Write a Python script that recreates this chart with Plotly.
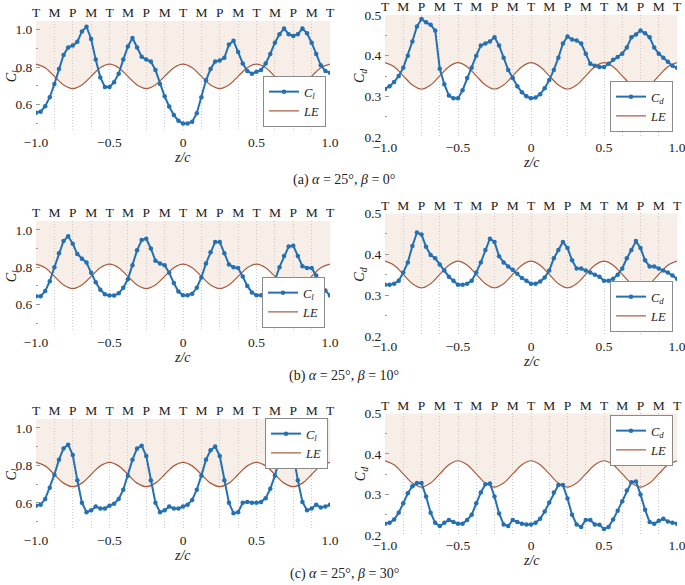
import numpy as np
import plotly.graph_objects as go

# ---------------- data ----------------
z = np.linspace(-1, 1, 65)          # measurement stations z/c
z_le = np.linspace(-1, 1, 33)       # leading-edge profile stations

cl_a = [0.558, 0.563, 0.592, 0.64, 0.71, 0.79, 0.865, 0.905, 0.915, 0.935, 0.99, 1.015, 0.95, 0.84, 0.745, 0.695, 0.695,
        0.72, 0.765, 0.84, 0.91, 0.955, 0.905, 0.855, 0.84, 0.83, 0.785, 0.71, 0.645, 0.59, 0.545, 0.515, 0.50,
        0.50, 0.51, 0.555, 0.64, 0.73, 0.79, 0.83, 0.835, 0.85, 0.92, 0.94, 0.88, 0.82, 0.78, 0.765, 0.775,
        0.785, 0.82, 0.87, 0.93, 0.975, 1.005, 0.975, 0.965, 0.975, 1.005, 0.98, 0.93, 0.87, 0.81, 0.78, 0.77]
cd_a = [0.318, 0.325, 0.335, 0.35, 0.37, 0.40, 0.435, 0.472, 0.49, 0.482, 0.476, 0.462, 0.368, 0.33, 0.302, 0.295, 0.295,
        0.315, 0.345, 0.37, 0.40, 0.425, 0.43, 0.435, 0.445, 0.425, 0.395, 0.365, 0.345, 0.325, 0.31, 0.30, 0.295,
        0.297, 0.305, 0.32, 0.34, 0.365, 0.395, 0.43, 0.447, 0.44, 0.437, 0.43, 0.405, 0.38, 0.375, 0.372, 0.372,
        0.38, 0.39, 0.397, 0.405, 0.42, 0.445, 0.452, 0.462, 0.455, 0.445, 0.42, 0.405, 0.395, 0.385, 0.375, 0.37]
cl_b = [0.645, 0.645, 0.672, 0.725, 0.80, 0.875, 0.94, 0.965, 0.925, 0.87, 0.845, 0.825, 0.77, 0.72, 0.68, 0.655, 0.648,
        0.648, 0.66, 0.69, 0.735, 0.81, 0.89, 0.945, 0.952, 0.90, 0.835, 0.82, 0.81, 0.77, 0.715, 0.67, 0.65,
        0.65, 0.658, 0.69, 0.745, 0.82, 0.88, 0.935, 0.935, 0.875, 0.815, 0.80, 0.795, 0.75, 0.70, 0.665, 0.65,
        0.65, 0.655, 0.68, 0.73, 0.80, 0.86, 0.91, 0.915, 0.86, 0.805, 0.795, 0.795, 0.755, 0.71, 0.675, 0.648]
cd_b = [0.325, 0.325, 0.328, 0.335, 0.355, 0.38, 0.42, 0.453, 0.448, 0.418, 0.398, 0.39, 0.375, 0.36, 0.345, 0.335, 0.325,
        0.325, 0.328, 0.335, 0.355, 0.38, 0.41, 0.438, 0.43, 0.395, 0.38, 0.37, 0.362, 0.352, 0.342, 0.335, 0.328,
        0.328, 0.333, 0.343, 0.36, 0.39, 0.41, 0.43, 0.415, 0.385, 0.365, 0.365, 0.36, 0.355, 0.35, 0.345, 0.335,
        0.335, 0.34, 0.35, 0.365, 0.39, 0.41, 0.432, 0.415, 0.385, 0.37, 0.37, 0.365, 0.36, 0.355, 0.348, 0.34]
cl_c = [0.585, 0.59, 0.62, 0.68, 0.75, 0.83, 0.89, 0.91, 0.855, 0.72, 0.60, 0.55, 0.56, 0.58, 0.57, 0.57, 0.585,
        0.595, 0.62, 0.67, 0.745, 0.83, 0.89, 0.905, 0.85, 0.72, 0.60, 0.55, 0.56, 0.58, 0.57, 0.57, 0.58,
        0.59, 0.615, 0.67, 0.745, 0.83, 0.88, 0.90, 0.85, 0.72, 0.60, 0.545, 0.55, 0.60, 0.605, 0.60, 0.60,
        0.605, 0.625, 0.675, 0.745, 0.83, 0.89, 0.91, 0.86, 0.72, 0.605, 0.56, 0.57, 0.59, 0.575, 0.58, 0.59]
cd_c = [0.228, 0.23, 0.238, 0.255, 0.278, 0.303, 0.32, 0.328, 0.328, 0.295, 0.255, 0.23, 0.222, 0.23, 0.237, 0.232, 0.228,
        0.228, 0.237, 0.25, 0.278, 0.305, 0.325, 0.327, 0.295, 0.253, 0.226, 0.222, 0.237, 0.232, 0.228, 0.226, 0.226,
        0.23, 0.24, 0.258, 0.28, 0.305, 0.323, 0.323, 0.29, 0.25, 0.226, 0.22, 0.237, 0.237, 0.226, 0.225, 0.215,
        0.22, 0.238, 0.26, 0.283, 0.31, 0.33, 0.332, 0.30, 0.262, 0.232, 0.228, 0.235, 0.24, 0.233, 0.23, 0.228]

# leading-edge profile drawn on each axis scale
le_cl = [0.816, 0.797, 0.751, 0.705, 0.686, 0.705, 0.751, 0.797,
         0.816, 0.797, 0.751, 0.705, 0.686, 0.705, 0.751, 0.797,
         0.816, 0.797, 0.751, 0.705, 0.686, 0.705, 0.751, 0.797,
         0.816, 0.797, 0.751, 0.705, 0.686, 0.705, 0.751, 0.797, 0.816]
le_cd = [0.383, 0.373, 0.3505, 0.328, 0.318, 0.328, 0.3505, 0.373,
         0.383, 0.373, 0.3505, 0.328, 0.318, 0.328, 0.3505, 0.373,
         0.383, 0.373, 0.3505, 0.328, 0.318, 0.328, 0.3505, 0.373,
         0.383, 0.373, 0.3505, 0.328, 0.318, 0.328, 0.3505, 0.373, 0.383]

top_tickvals = list(np.linspace(-1, 1, 17))
top_labels = ["T", "M", "P", "M", "T", "M", "P", "M", "T", "M", "P", "M", "T", "M", "P", "M", "T"]
x_tickvals = [-1, -0.5, 0, 0.5, 1]
x_ticktext = ["\u22121.0", "\u22120.5", "0", "0.5", "1.0"]
yl_tickvals = [0.6, 0.8, 1.0]
yl_ticktext = ["0.6", "0.8", "1.0"]
yd_tickvals = [0.2, 0.3, 0.4, 0.5]
yd_ticktext = ["0.2", "0.3", "0.4", "0.5"]
captions = ["(a) <i>\u03b1</i> = 25\u00b0, <i>\u03b2</i> = 0\u00b0",
            "(b) <i>\u03b1</i> = 25\u00b0, <i>\u03b2</i> = 10\u00b0",
            "(c) <i>\u03b1</i> = 25\u00b0, <i>\u03b2</i> = 30\u00b0"]

# ---------------- layout helpers ----------------
W, H = 685, 585
FONT = "Liberation Serif"
BLUE = "#2470b3"
BROWN = "#a85a3c"
FILL = "rgba(225,195,170,0.28)"
FRAME = "#9a9a9a"
GRID = "#cccccc"
TICKSIZE = 13.5

def px_x(a, b):
    return [a / W, b / W]

def px_y(top, bottom):
    return [1 - bottom / H, 1 - top / H]

# (values, le, kind, x-pixels, y-pixels (top,bottom), yrange, legend pos)
panels = [
    (cl_a, le_cl, "l", (36, 330), (20.7, 132), [0.455, 1.047], ("bottom", 326, 127)),
    (cd_a, le_cd, "d", (385, 677), (15, 137), [0.2, 0.5], ("bottom", 673, 132)),
    (cl_b, le_cl, "l", (36, 330), (221, 331.7), [0.455, 1.047], ("bottom", 325, 328)),
    (cd_b, le_cd, "d", (385, 677), (213.3, 336), [0.2, 0.5], ("bottom", 673, 332)),
    (cl_c, le_cl, "l", (36, 330), (419, 530), [0.455, 1.047], ("top", 328, 418)),
    (cd_c, le_cd, "d", (385, 677), (413.3, 535), [0.2, 0.5], ("top", 673, 415)),
]

fig = go.Figure()
layout = dict(
    width=W, height=H, margin=dict(l=0, r=0, t=0, b=0, autoexpand=False),
    paper_bgcolor="white", plot_bgcolor="white",
    font=dict(family=FONT, size=14, color="#222"),
    showlegend=True,
)
annotations = []

for i, (vals, le, kind, xp, yp, yr, lpos) in enumerate(panels, start=1):
    xa = "x" if i == 1 else f"x{i}"
    ya = "y" if i == 1 else f"y{i}"
    lg = "legend" if i == 1 else f"legend{i}"
    xtop = f"x{i + 6}"

    # shaded region above leading edge
    fig.add_trace(go.Scatter(x=[-1, 1], y=[yr[1], yr[1]], mode="lines", line=dict(width=0),
                             showlegend=False, hoverinfo="skip", xaxis=xa, yaxis=ya))
    fig.add_trace(go.Scatter(x=z_le, y=le, mode="lines", line=dict(width=0, shape="spline"),
                             fill="tonexty", fillcolor=FILL, showlegend=False, hoverinfo="skip",
                             xaxis=xa, yaxis=ya))
    # coefficient (drawn on top via zorder, listed first in legend)
    fig.add_trace(go.Scatter(x=z, y=vals, mode="lines+markers",
                             line=dict(color=BLUE, width=2), marker=dict(color=BLUE, size=4.5),
                             name=f"<i>C<sub>{kind}</sub></i>", legend=lg, zorder=2,
                             xaxis=xa, yaxis=ya))
    # LE line
    fig.add_trace(go.Scatter(x=z_le, y=le, mode="lines", line=dict(color=BROWN, width=1.2, shape="spline"),
                             name="<i>LE</i>", legend=lg, zorder=1, xaxis=xa, yaxis=ya))
    # invisible trace so the top T/M/P axis is rendered
    fig.add_trace(go.Scatter(x=[-1, 1], y=[yr[1], yr[1]], mode="lines", line=dict(width=0),
                             showlegend=False, hoverinfo="skip", xaxis=xtop, yaxis=ya, zorder=0))

    layout[f"xaxis{i}" if i > 1 else "xaxis"] = dict(
        domain=px_x(*xp), anchor=ya, range=[-1, 1], automargin=False,
        tickmode="array", tickvals=x_tickvals, ticktext=x_ticktext,
        showgrid=False, zeroline=False, showline=True, mirror=True,
        linecolor=FRAME, linewidth=1, ticks="", tickfont=dict(size=TICKSIZE),
        ticklabeloverflow="allow", ticklabelstandoff=-2,
    )
    layout[f"xaxis{i + 6}"] = dict(
        overlaying=xa, anchor=ya, side="top", range=[-1, 1], automargin=False,
        tickmode="array", tickvals=top_tickvals, ticktext=top_labels,
        showgrid=True, griddash="1px,2px", gridcolor=GRID, gridwidth=1,
        zeroline=False, showline=False, ticks="", tickfont=dict(size=TICKSIZE),
        ticklabeloverflow="allow",
    )
    if kind == "l":
        ytv, ytt, minor = yl_tickvals, yl_ticktext, [0.5, 0.7, 0.9]
    else:
        ytv, ytt, minor = yd_tickvals, yd_ticktext, [0.25, 0.35, 0.45]
    layout[f"yaxis{i}" if i > 1 else "yaxis"] = dict(
        domain=px_y(*yp), anchor=xa, range=yr, automargin=False,
        tickmode="array", tickvals=ytv, ticktext=ytt,
        showgrid=False, zeroline=False, showline=True, mirror=True,
        linecolor=FRAME, linewidth=1, ticks="inside", ticklen=4, tickcolor=FRAME,
        minor=dict(ticks="inside", ticklen=2, tickcolor=FRAME, tickvals=minor),
        tickfont=dict(size=TICKSIZE), ticklabeloverflow="allow",
    )
    side, lx, ly = lpos
    layout[lg] = dict(
        x=lx / W, y=1 - ly / H, xanchor="right", yanchor=side, xref="paper", yref="paper",
        bgcolor="white", bordercolor="#8a8a8a", borderwidth=1, traceorder="normal",
        font=dict(family=FONT, size=12.5), tracegroupgap=0, itemwidth=30,
    )

    # axis titles
    cx = (xp[0] + xp[1]) / 2
    annotations.append(dict(text="<i>z/c</i>", x=cx / W, y=1 - (yp[1] + 25.5) / H, xref="paper", yref="paper",
                            showarrow=False, xanchor="center", yanchor="middle", font=dict(size=14)))
    annotations.append(dict(text=f"<i>C<sub>{kind}</sub></i>", x=(xp[0] - 24) / W, y=1 - ((yp[0] + yp[1]) / 2) / H,
                            xref="paper", yref="paper", showarrow=False, textangle=-90,
                            xanchor="center", yanchor="middle", font=dict(size=14)))

for cap, ypix in zip(captions, [180, 376, 574]):
    annotations.append(dict(text=cap, x=344 / W, y=1 - ypix / H, xref="paper", yref="paper",
                            showarrow=False, xanchor="center", yanchor="middle", font=dict(size=14)))

layout["annotations"] = annotations
fig.update_layout(**layout)
fig.write_html("out.html", config={"displayModeBar": False},
               post_script="document.body.style.margin='0';document.body.style.padding='0';"
                           "document.body.style.overflow='hidden';")
